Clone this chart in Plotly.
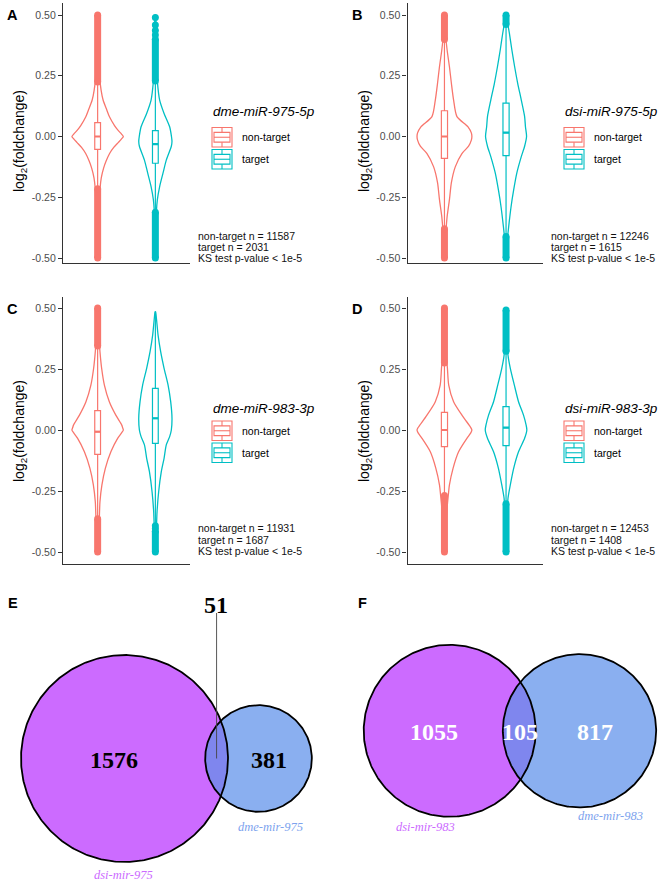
import numpy as np
import plotly.graph_objects as go

W, H = 660, 884
SANS = "Liberation Sans, Arial, Helvetica, sans-serif"
SERIF = "Liberation Serif, Times New Roman, serif"
COLORS = ["#F8766D", "#00BFC4"]
GROUPS = ["non-target", "target"]

# ---------------- data: violin panels A-D ----------------
panel_letters = ["A", "B", "C", "D"]
mirna_titles = ["dme-miR-975-5p", "dsi-miR-975-5p", "dme-miR-983-3p", "dsi-miR-983-3p"]
n_nontarget = [11587, 12246, 11931, 12453]
n_target = [2031, 1615, 1687, 1408]
ks_text = "KS test p-value < 1e-5"

ytick_vals = [-0.5, -0.25, 0.0, 0.25, 0.5]
ytick_text = ["-0.50", "-0.25", "0.00", "0.25", "0.50"]

# box statistics (panels A, B, C, D)
q1_nontarget = [-0.053, -0.090, -0.100, -0.068]
med_nontarget = [0.000, 0.000, -0.007, 0.000]
q3_nontarget = [0.057, 0.106, 0.079, 0.072]
lo_nontarget = [-0.213, -0.378, -0.362, -0.266]
hi_nontarget = [0.222, 0.397, 0.342, 0.273]
q1_target = [-0.110, -0.079, -0.055, -0.064]
med_target = [-0.031, 0.016, 0.048, 0.010]
q3_target = [0.024, 0.137, 0.171, 0.096]
lo_target = [-0.310, -0.410, -0.390, -0.300]
hi_target = [0.226, 0.459, 0.485, 0.321]

# outliers: dense runs [low, high] and isolated points
outlier_runs_nontarget = [
    [(-0.500, -0.215), (0.224, 0.500)],
    [(-0.500, -0.380), (0.399, 0.500)],
    [(-0.500, -0.364), (0.344, 0.500)],
    [(-0.500, -0.268), (0.275, 0.500)],
]
outlier_runs_target = [
    [(-0.500, -0.312), (0.228, 0.400)],
    [(-0.500, -0.412), (0.461, 0.500)],
    [(-0.500, -0.415)],
    [(-0.500, -0.302), (0.323, 0.492)],
]
outlier_points_target = [
    [0.418, 0.436, 0.459, 0.490],
    [],
    [-0.392, -0.404],
    [],
]

# violin density profiles (relative density, widest violin of a panel ~ 100)
vio_levels_nontarget = [
    [-0.50, -0.42, -0.34, -0.27, -0.21, -0.17, -0.13, -0.10, -0.07, -0.045, -0.025, -0.01, 0.0,
     0.01, 0.025, 0.045, 0.08, 0.11, 0.15, 0.19, 0.23, 0.30, 0.40, 0.50],
    [-0.50, -0.42, -0.378, -0.33, -0.26, -0.19, -0.125, -0.07, -0.04, -0.015, 0.0, 0.015, 0.04,
     0.082, 0.15, 0.219, 0.287, 0.356, 0.425, 0.50],
    [-0.50, -0.43, -0.362, -0.294, -0.225, -0.157, -0.089, -0.034, -0.012, 0.0, 0.01, 0.02, 0.061,
     0.116, 0.184, 0.253, 0.321, 0.40, 0.50],
    [-0.50, -0.40, -0.30, -0.266, -0.225, -0.157, -0.089, -0.034, -0.012, 0.0, 0.01, 0.02, 0.061,
     0.116, 0.184, 0.253, 0.32, 0.40, 0.50],
]
vio_density_nontarget = [
    [1.5, 3, 5, 7, 9.6, 14, 23, 33, 46, 62, 79, 92, 99, 92, 79, 65, 46, 35, 21, 13.5, 9, 6, 3, 1.5],
    [1.5, 3.5, 6, 9.6, 18, 25, 39, 63, 87, 97, 99, 97, 85, 45, 33, 25, 18, 9.6, 3.6, 1.5],
    [1.5, 4, 6.5, 9, 16.5, 29.6, 51, 77, 92, 99, 96, 93, 70, 45, 26, 15.4, 9, 4, 1.5],
    [1.5, 5, 11, 14, 18, 31, 51, 81, 95, 99, 95, 89, 63, 33, 15.4, 10.7, 6, 4, 1.5],
]
vio_levels_target = [
    [-0.50, -0.40, -0.31, -0.26, -0.206, -0.15, -0.097, -0.04, -0.02, 0.0, 0.04, 0.095, 0.15,
     0.226, 0.30, 0.40, 0.50],
    [-0.50, -0.41, -0.37, -0.29, -0.22, -0.15, -0.083, -0.04, 0.0, 0.04, 0.082, 0.15, 0.219,
     0.287, 0.356, 0.425, 0.459, 0.50],
    [-0.50, -0.43, -0.39, -0.335, -0.253, -0.17, -0.116, -0.061, -0.027, 0.0, 0.048, 0.116,
     0.184, 0.253, 0.321, 0.389, 0.458, 0.485],
    [-0.50, -0.40, -0.30, -0.28, -0.225, -0.157, -0.089, -0.034, 0.0, 0.02, 0.061, 0.116, 0.184,
     0.253, 0.307, 0.40, 0.49],
]
vio_density_target = [
    [1, 2.5, 4, 7.7, 16.5, 29.6, 42, 61.5, 64, 62, 55, 33.5, 16.5, 7.7, 4, 2.5, 1],
    [1, 6, 9.6, 18, 27.5, 39, 55, 67, 74, 70, 67, 55, 42, 31, 21, 12, 7, 1.5],
    [1, 3, 4.5, 6.5, 12.7, 23, 33.5, 42, 55, 61.5, 64, 59, 49, 33.5, 20.4, 10.4, 4, 0.8],
    [1, 3.5, 6, 7, 15.4, 27.5, 45, 67, 75, 72.5, 63, 45, 30, 15.4, 7, 3.5, 1],
]

# ---------------- data: Venn panels E, F ----------------
venn_letters = ["E", "F"]
venn_dsi_labels = ["dsi-mir-975", "dsi-mir-983"]
venn_dme_labels = ["dme-mir-975", "dme-mir-983"]
venn_only_dsi = [1576, 1055]
venn_both = [51, 105]
venn_only_dme = [381, 817]

# ---------------- layout (pixel geometry) ----------------
panel_xpx = [(63, 190), (407.5, 543), (63, 190), (407.5, 543)]
panel_ypx = [(3, 262.5), (3, 262.5), (297, 564), (297, 564)]
panel_yrange = [(-0.5185, 0.5494), (-0.5185, 0.5494), (-0.5492, 0.5451), (-0.5492, 0.5451)]
VIOLIN_HALF = 0.45
BOX_W = 0.1


def pxx(p):
    return p / W


def pxy(p):
    return 1 - p / H


fig = go.Figure()
layout = dict(width=W, height=H, margin=dict(l=0, r=0, t=0, b=0), paper_bgcolor="white",
              plot_bgcolor="rgba(0,0,0,0)", showlegend=False, font=dict(family=SANS, color="black"))
annotations = []
shapes = []

stats = {
    0: (q1_nontarget, med_nontarget, q3_nontarget, lo_nontarget, hi_nontarget,
        vio_levels_nontarget, vio_density_nontarget, outlier_runs_nontarget, None),
    1: (q1_target, med_target, q3_target, lo_target, hi_target,
        vio_levels_target, vio_density_target, outlier_runs_target, outlier_points_target),
}

for i in range(4):
    sfx = "" if i == 0 else str(i + 1)
    xr, yr = "x" + sfx, "y" + sfx
    x0, x1 = panel_xpx[i]
    yt, yb = panel_ypx[i]
    layout["xaxis" + sfx] = dict(domain=[pxx(x0), pxx(x1)], range=[0.4, 2.6], anchor=yr,
                                 showline=True, linecolor="#333333", linewidth=1.2,
                                 showticklabels=False, ticks="", showgrid=False, zeroline=False,
                                 fixedrange=True)
    layout["yaxis" + sfx] = dict(domain=[pxy(yb), pxy(yt)], range=list(panel_yrange[i]), anchor=xr,
                                 showline=True, linecolor="#333333", linewidth=1.2,
                                 tickvals=ytick_vals, ticktext=ytick_text, ticks="outside",
                                 ticklen=4, tickcolor="#333333", tickwidth=1.1,
                                 tickfont=dict(size=10.5, color="#4D4D4D", family=SANS),
                                 showgrid=False, zeroline=False, fixedrange=True)
    for g in range(2):
        q1, med, q3, lo, hi, levs, dens, runs, pts = stats[g]
        c = g + 1
        col = COLORS[g]
        lv = np.array(levs[i], dtype=float)
        hw = VIOLIN_HALF * np.array(dens[i], dtype=float) / 100.0
        vx = np.concatenate([c - hw, (c + hw)[::-1]])
        vy = np.concatenate([lv, lv[::-1]])
        fig.add_trace(go.Scatter(x=vx, y=vy, mode="lines",
                                 line=dict(color=col, width=1.3, shape="spline", smoothing=0.7),
                                 xaxis=xr, yaxis=yr, hoverinfo="skip"))
        fig.add_trace(go.Box(x=[c], q1=[q1[i]], median=[med[i]], q3=[q3[i]],
                             lowerfence=[lo[i]], upperfence=[hi[i]], width=BOX_W, whiskerwidth=0,
                             fillcolor="white", line=dict(color=col, width=1.2), boxpoints=False,
                             xaxis=xr, yaxis=yr, hoverinfo="skip"))
        # thicker median bar (as in ggplot boxplots)
        fig.add_trace(go.Scatter(x=[c - BOX_W / 2, c + BOX_W / 2], y=[med[i], med[i]],
                                 mode="lines", line=dict(color=col, width=2.2),
                                 xaxis=xr, yaxis=yr, hoverinfo="skip"))
        for (a, b) in runs[i]:
            fig.add_trace(go.Scatter(x=[c, c], y=[a, b], mode="lines+markers",
                                     line=dict(color=col, width=7),
                                     marker=dict(color=col, size=7), xaxis=xr, yaxis=yr,
                                     hoverinfo="skip"))
        if pts is not None and pts[i]:
            fig.add_trace(go.Scatter(x=[c] * len(pts[i]), y=pts[i], mode="markers",
                                     marker=dict(color=col, size=7), xaxis=xr, yaxis=yr,
                                     hoverinfo="skip"))

    # panel letter
    letter_x = 12.3 if i % 2 == 0 else 357.3
    letter_y = 15 if i < 2 else 308.5
    annotations.append(dict(x=pxx(letter_x), y=pxy(letter_y), xref="paper", yref="paper",
                            text="<b>%s</b>" % panel_letters[i], showarrow=False,
                            xanchor="center", yanchor="middle",
                            font=dict(size=14.5, family=SANS, color="black")))
    # y-axis title
    ylab_x = 20 if i % 2 == 0 else 365
    ylab_y = 141 if i < 2 else 431
    annotations.append(dict(x=pxx(ylab_x), y=pxy(ylab_y), xref="paper", yref="paper",
                            text="log<sub>2</sub>(foldchange)", showarrow=False, textangle=-90,
                            xanchor="center", yanchor="middle",
                            font=dict(size=14, family=SANS, color="black")))
    # legend
    lx = 211 if i % 2 == 0 else 563
    title_y = 111 if i < 2 else 408.5
    key_tops = [127.5, 149.5] if i < 2 else [421, 443]
    annotations.append(dict(x=pxx(lx), y=pxy(title_y), xref="paper", yref="paper",
                            text="<i>%s</i>" % mirna_titles[i], showarrow=False,
                            xanchor="left", yanchor="middle",
                            font=dict(size=13.5, family=SANS, color="black")))
    kw, kh = 20, 19.5
    for g in range(2):
        col = COLORS[g]
        kx0 = lx + 1
        ky0 = key_tops[g]
        line = dict(color=col, width=1.1)
        shapes.append(dict(type="rect", xref="paper", yref="paper", x0=pxx(kx0), x1=pxx(kx0 + kw),
                           y0=pxy(ky0), y1=pxy(ky0 + kh), line=line, fillcolor="white"))
        shapes.append(dict(type="rect", xref="paper", yref="paper", x0=pxx(kx0 + 0.1 * kw),
                           x1=pxx(kx0 + 0.9 * kw), y0=pxy(ky0 + 0.25 * kh),
                           y1=pxy(ky0 + 0.75 * kh), line=line))
        shapes.append(dict(type="line", xref="paper", yref="paper", x0=pxx(kx0 + 0.1 * kw),
                           x1=pxx(kx0 + 0.9 * kw), y0=pxy(ky0 + 0.5 * kh), y1=pxy(ky0 + 0.5 * kh),
                           line=line))
        shapes.append(dict(type="line", xref="paper", yref="paper", x0=pxx(kx0 + 0.5 * kw),
                           x1=pxx(kx0 + 0.5 * kw), y0=pxy(ky0), y1=pxy(ky0 + 0.25 * kh), line=line))
        shapes.append(dict(type="line", xref="paper", yref="paper", x0=pxx(kx0 + 0.5 * kw),
                           x1=pxx(kx0 + 0.5 * kw), y0=pxy(ky0 + 0.75 * kh), y1=pxy(ky0 + kh),
                           line=line))
        annotations.append(dict(x=pxx(kx0 + kw + 8), y=pxy(ky0 + kh / 2), xref="paper",
                                yref="paper", text=GROUPS[g], showarrow=False, xanchor="left",
                                yanchor="middle", font=dict(size=10.5, family=SANS, color="black")))
    # n / KS text
    tx = 196 if i % 2 == 0 else 549.3
    tys = [235.7, 247, 258.3] if i < 2 else [528.3, 539.8, 551.3]
    lines = ["non-target n = %d" % n_nontarget[i], "target n = %d" % n_target[i], ks_text]
    for t, ty in zip(lines, tys):
        annotations.append(dict(x=pxx(tx), y=pxy(ty), xref="paper", yref="paper", text=t,
                                showarrow=False, xanchor="left", yanchor="middle",
                                font=dict(size=10.5, family=SANS, color="#111111")))

# ---------------- Venn diagrams ----------------
layout["xaxis5"] = dict(domain=[0, 1], range=[0, W], visible=False, anchor="y5", fixedrange=True)
layout["yaxis5"] = dict(domain=[0, 1], range=[H, 0], visible=False, anchor="x5", fixedrange=True)

PURPLE = "#CC6BFF"
BLUE = "#8AAFF0"
LENS = "#7F86EE"
venn_scale = [2.566, 2.525]            # px per sqrt(count)
venn_left_center = [(124.5, 758.5), (449.7, 730.8)]
venn_right_cx = [258.5, 579.5]
venn_num_color = ["black", "white"]


def circle(cx, cy, r, n=361):
    t = np.linspace(0, 2 * np.pi, n)
    return cx + r * np.cos(t), cy + r * np.sin(t)


for v in range(2):
    k = venn_scale[v]
    n_dsi = venn_only_dsi[v] + venn_both[v]
    n_dme = venn_only_dme[v] + venn_both[v]
    r1, r2 = k * np.sqrt(n_dsi), k * np.sqrt(n_dme)
    c1 = venn_left_center[v]
    c2 = (venn_right_cx[v], c1[1])
    for (c, r, col) in [(c1, r1, PURPLE), (c2, r2, BLUE)]:
        cx, cy = circle(c[0], c[1], r)
        fig.add_trace(go.Scatter(x=cx, y=cy, mode="lines", fill="toself", fillcolor=col,
                                 line=dict(width=0, color=col), xaxis="x5", yaxis="y5",
                                 hoverinfo="skip"))
    d = np.hypot(c2[0] - c1[0], c2[1] - c1[1])
    phi = np.arctan2(c2[1] - c1[1], c2[0] - c1[0])
    a1 = np.arccos((d ** 2 + r1 ** 2 - r2 ** 2) / (2 * d * r1))
    a2 = np.arccos((d ** 2 + r2 ** 2 - r1 ** 2) / (2 * d * r2))
    t1 = np.linspace(phi - a1, phi + a1, 120)
    t2 = np.linspace(phi + np.pi - a2, phi + np.pi + a2, 120)
    lx = np.concatenate([c1[0] + r1 * np.cos(t1), c2[0] + r2 * np.cos(t2)])
    ly = np.concatenate([c1[1] + r1 * np.sin(t1), c2[1] + r2 * np.sin(t2)])
    fig.add_trace(go.Scatter(x=lx, y=ly, mode="lines", fill="toself", fillcolor=LENS,
                             line=dict(width=0, color=LENS), xaxis="x5", yaxis="y5",
                             hoverinfo="skip"))
    for (c, r) in [(c1, r1), (c2, r2)]:
        cx, cy = circle(c[0], c[1], r)
        fig.add_trace(go.Scatter(x=cx, y=cy, mode="lines", line=dict(width=1.8, color="black"),
                                 xaxis="x5", yaxis="y5", hoverinfo="skip"))
    lens_mid = ((c1[0] + r1) + (c2[0] - r2)) / 2
    numcol = venn_num_color[v]
    num_font = dict(size=24, family=SERIF, color=numcol)
    if v == 0:
        fig.add_trace(go.Scatter(x=[lens_mid, lens_mid], y=[613, c1[1]], mode="lines",
                                 line=dict(width=0.9, color="#444444"), xaxis="x5", yaxis="y5",
                                 hoverinfo="skip"))
        both_pos = (lens_mid - 0.5, 604.5)
        only1_pos = (113.8, 760)
        only2_pos = (268.7, 760)
        dsi_pos = (123.3, 875)
        dme_pos = (270, 826.7)
    else:
        both_pos = (519.5, 731.7)
        only1_pos = (433.7, 731.7)
        only2_pos = (595, 731.7)
        dsi_pos = (425.7, 826.7)
        dme_pos = (610, 815.7)
    for txt, pos in [(venn_only_dsi[v], only1_pos), (venn_both[v], both_pos),
                     (venn_only_dme[v], only2_pos)]:
        annotations.append(dict(x=pos[0], y=pos[1], xref="x5", yref="y5",
                                text="<b>%d</b>" % txt, showarrow=False, xanchor="center",
                                yanchor="middle", font=num_font))
    annotations.append(dict(x=dsi_pos[0], y=dsi_pos[1], xref="x5", yref="y5",
                            text="<i>%s</i>" % venn_dsi_labels[v], showarrow=False,
                            xanchor="center", yanchor="middle",
                            font=dict(size=12.5, family=SERIF, color=PURPLE)))
    annotations.append(dict(x=dme_pos[0], y=dme_pos[1], xref="x5", yref="y5",
                            text="<i>%s</i>" % venn_dme_labels[v], showarrow=False,
                            xanchor="center", yanchor="middle",
                            font=dict(size=12.5, family=SERIF, color="#7DA3EE")))
    letter_x = 12.8 if v == 0 else 362.5
    annotations.append(dict(x=pxx(letter_x), y=pxy(603), xref="paper", yref="paper",
                            text="<b>%s</b>" % venn_letters[v], showarrow=False,
                            xanchor="center", yanchor="middle",
                            font=dict(size=14.5, family=SANS, color="black")))

layout["annotations"] = annotations
layout["shapes"] = shapes
fig.update_layout(**layout)
fig.write_html("out.html", config={"displayModeBar": False},
               post_script="document.body.style.margin='0px';document.body.style.padding='0px';")
